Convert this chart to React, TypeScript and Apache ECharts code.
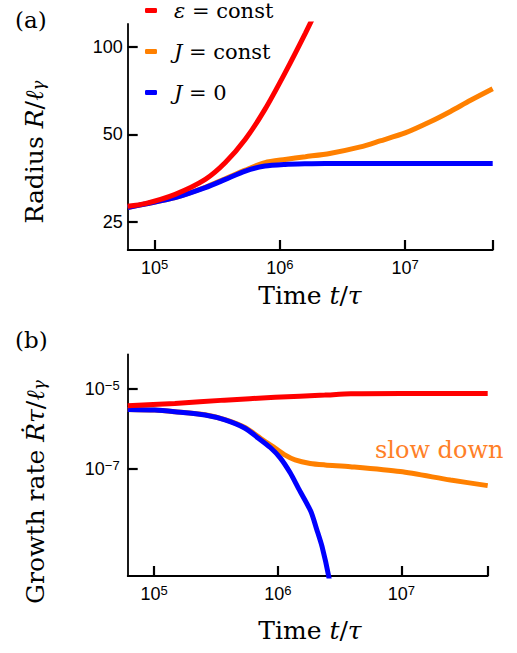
import React, { useEffect, useRef } from "react";
import * as echarts from "echarts";

// ---------- Data ----------
// Panel (a): Radius R / l_gamma vs time t / tau
const aRedT = [6.1e4, 8.4e4, 1.46e5, 2.54e5, 3.67e5, 5.3e5, 7.6e5, 1.1e6, 1.6e6, 2.2e6];
const aRedR = [28.3, 28.9, 31.1, 35.0, 40.0, 48.1, 61.0, 81.5, 111.7, 148];

const aOrangeT = [6.1e4, 8.4e4, 1.46e5, 2.54e5, 3.67e5, 5.3e5, 7.6e5, 1.1e6, 1.6e6, 2.5e6, 4.4e6, 6.3e6, 1e7, 1.6e7, 2.3e7, 3.3e7, 5e7];
const aOrangeR = [28.0, 28.8, 30.3, 32.9, 35.2, 37.7, 40.0, 41.0, 41.9, 43.0, 45.3, 47.5, 50.6, 55.4, 60.0, 65.4, 71.8];

const aBlueT = [6.1e4, 8.4e4, 1.46e5, 2.54e5, 3.67e5, 5.3e5, 7.6e5, 1.1e6, 1.6e6, 2.3e6, 5e6, 1e7, 5e7];
const aBlueR = [28.0, 28.8, 30.3, 32.8, 35.0, 37.4, 38.9, 39.4, 39.6, 39.7, 39.7, 39.7, 39.7];

// Panel (b): growth rate dR/dt * tau / l_gamma vs time
const bRedT = [6.1e4, 1.47e5, 3.7e5, 9.5e5, 2.4e6, 3.9e6, 1e7, 5e7];
const bRedV = [3.7e-6, 4.2e-6, 5.1e-6, 6.0e-6, 6.8e-6, 7.3e-6, 7.5e-6, 7.4e-6];

const bOrangeT = [6.1e4, 1.01e5, 1.47e5, 2.58e5, 3.74e5, 5.43e5, 7.9e5, 9.5e5, 1.15e6, 1.38e6, 1.83e6, 2.42e6, 3.86e6, 9.8e6, 2.5e7, 5e7];
const bOrangeV = [3.0e-6, 2.9e-6, 2.63e-6, 2.2e-6, 1.67e-6, 1.07e-6, 4.75e-7, 3.3e-7, 2.2e-7, 1.67e-7, 1.37e-7, 1.26e-7, 1.14e-7, 8.6e-8, 5.3e-8, 3.85e-8];

const bBlueT = [6.1e4, 1.01e5, 1.47e5, 2.58e5, 3.74e5, 5.43e5, 6.97e5, 8.7e5, 1.05e6, 1.26e6, 1.47e6, 1.85e6, 2.07e6, 2.28e6, 2.58e6, 2.75e6];
const bBlueV = [3.0e-6, 2.9e-6, 2.63e-6, 2.18e-6, 1.64e-6, 1.02e-6, 5.8e-7, 3.4e-7, 1.85e-7, 8.0e-8, 3.3e-8, 8.9e-9, 3.1e-9, 1.19e-9, 2.2e-10, 6e-11];

// Axis ticks / ranges
const xTicks = [1e5, 1e6, 1e7];
const xRange = [6.1e4, 5e7];
const aYTicks = [25, 50, 100];
const aYRange = [20, 120];
const bYTicks = [1e-7, 1e-5];
const bYRange = [2.2e-10, 7e-5];

const seriesNames = ["ε = const", "J = const", "J = 0"];
const colors = { red: "#ff0000", orange: "#ff8000", blue: "#0000ff" };

const SERIF = "DejaVu Serif";
const SANS = "Liberation Sans";

function pairs(t: number[], v: number[]) {
  return t.map((x, i) => [x, v[i]]);
}

const tickRich = {
  n: { fontSize: 18, fontFamily: SANS, color: "#000", lineHeight: 19, verticalAlign: "bottom" },
  s: { fontSize: 13, fontFamily: SANS, color: "#000", lineHeight: 12, verticalAlign: "top" },
};

function tickCfg(values: number[]) {
  return { show: true, inside: true, length: 10, lineStyle: { color: "#000000", width: 2.2 }, customValues: values };
}

function xAxisCfg(gridIndex: number) {
  return {
    type: "log",
    logBase: 10,
    gridIndex,
    min: xRange[0],
    max: xRange[1],
    axisLine: { show: true, onZero: false, lineStyle: { color: "#000", width: 1.8 } },
    axisTick: tickCfg([...xTicks, xRange[1]]),
    minorTick: { show: false },
    splitLine: { show: false },
    axisLabel: {
      customValues: xTicks,
      margin: 8,
      hideOverlap: false,
      formatter: (v: number) => `{n|10}{s|${Math.round(Math.log10(v))}}`,
      rich: tickRich,
    },
  };
}

export default function App() {
  const ref = useRef<HTMLDivElement>(null);
  useEffect(() => {
    if (!ref.current) return;
    const chart = echarts.init(ref.current, undefined, { renderer: "svg" });
    const lineBase = { type: "line", showSymbol: false, symbol: "none", smooth: 0.25, clip: true };
    const italic = (size: number) => ({ fontFamily: SERIF, fontStyle: "italic", fontSize: size, fill: "#000" });
    const option: any = {
      animation: false,
      backgroundColor: "#fff",
      grid: [
        { left: 127.7, right: 517 - 492.7, top: 24, height: 226, outerBoundsMode: "none", containLabel: false },
        { left: 127.7, right: 517 - 487.7, top: 354.3, height: 221.7, outerBoundsMode: "none", containLabel: false },
      ],
      xAxis: [xAxisCfg(0), xAxisCfg(1)],
      yAxis: [
        {
          type: "log", logBase: 10, gridIndex: 0, min: aYRange[0], max: aYRange[1],
          axisLine: { show: true, onZero: false, lineStyle: { color: "#000", width: 1.8 } },
          axisTick: tickCfg(aYTicks),
          minorTick: { show: false }, splitLine: { show: false },
          axisLabel: { customValues: aYTicks, margin: 5, hideOverlap: false, color: "#000", fontSize: 18, fontFamily: SANS, formatter: (v: number) => `${Math.round(v)}` },
        },
        {
          type: "log", logBase: 10, gridIndex: 1, min: bYRange[0], max: bYRange[1],
          axisLine: { show: true, onZero: false, lineStyle: { color: "#000", width: 1.8 } },
          axisTick: tickCfg(bYTicks),
          minorTick: { show: false }, splitLine: { show: false },
          axisLabel: { customValues: bYTicks, margin: 8, hideOverlap: false, formatter: (v: number) => `{n|10}{s|−${-Math.round(Math.log10(v))}}`, rich: tickRich },
        },
      ],
      legend: {
        data: seriesNames, orient: "vertical", left: 145, top: 0, padding: 0, itemWidth: 12, itemHeight: 5, itemGap: 20, icon: "roundRect",
        formatter: (name: string) => {
          if (name === seriesNames[0]) return "{i|ε} = const";
          if (name === seriesNames[1]) return "{i|J} = const";
          return "{i|J} = 0";
        },
        textStyle: {
          fontFamily: SERIF, fontSize: 21, color: "#000", lineHeight: 20, padding: [0, 0, 0, 12],
          rich: { i: { fontFamily: SERIF, fontStyle: "italic", fontSize: 21, color: "#000", lineHeight: 20 } },
        },
      },
      graphic: [
        { type: "text", x: 15, y: 20, style: { text: "(a)", fontFamily: SERIF, fontSize: 23, fill: "#000", align: "left", verticalAlign: "middle" } },
        { type: "text", x: 15, y: 340, style: { text: "(b)", fontFamily: SERIF, fontSize: 23, fill: "#000", align: "left", verticalAlign: "middle" } },
        { type: "text", x: 310, y: 295, style: { text: "Time {i|t}/{i|τ}", fontFamily: SERIF, fontSize: 25, fill: "#000", align: "center", verticalAlign: "middle", rich: { i: italic(25) } } },
        { type: "text", x: 310, y: 630, style: { text: "Time {i|t}/{i|τ}", fontFamily: SERIF, fontSize: 25, fill: "#000", align: "center", verticalAlign: "middle", rich: { i: italic(25) } } },
        { type: "text", x: 34, y: 152, rotation: Math.PI / 2, style: { text: "Radius {i|R}/{i|ℓ}{sub|γ}", fontFamily: SERIF, fontSize: 25, fill: "#000", align: "center", verticalAlign: "middle", rich: { i: italic(25), sub: { ...italic(17), verticalAlign: "bottom" } } } },
        { type: "text", x: 35, y: 492, rotation: Math.PI / 2, style: { text: "Growth rate {i|Ṙτ}/{i|ℓ}{sub|γ}", fontFamily: SERIF, fontSize: 25, fill: "#000", align: "center", verticalAlign: "middle", rich: { i: italic(25), sub: { ...italic(17), verticalAlign: "bottom" } } } },
        { type: "text", x: 375, y: 450, style: { text: "slow down", fontFamily: SERIF, fontSize: 24, fill: "#ff7f27", align: "left", verticalAlign: "middle" } },
      ],
      series: [
        { ...lineBase, name: seriesNames[1], xAxisIndex: 0, yAxisIndex: 0, data: pairs(aOrangeT, aOrangeR), color: colors.orange, lineStyle: { width: 5, color: colors.orange } },
        { ...lineBase, name: seriesNames[2], xAxisIndex: 0, yAxisIndex: 0, data: pairs(aBlueT, aBlueR), color: colors.blue, lineStyle: { width: 5, color: colors.blue } },
        { ...lineBase, name: seriesNames[0], xAxisIndex: 0, yAxisIndex: 0, data: pairs(aRedT, aRedR), color: colors.red, lineStyle: { width: 5, color: colors.red } },
        { ...lineBase, name: seriesNames[1], xAxisIndex: 1, yAxisIndex: 1, data: pairs(bOrangeT, bOrangeV), color: colors.orange, lineStyle: { width: 5, color: colors.orange } },
        { ...lineBase, name: seriesNames[2], xAxisIndex: 1, yAxisIndex: 1, data: pairs(bBlueT, bBlueV), color: colors.blue, lineStyle: { width: 5, color: colors.blue } },
        { ...lineBase, name: seriesNames[0], xAxisIndex: 1, yAxisIndex: 1, data: pairs(bRedT, bRedV), color: colors.red, lineStyle: { width: 5, color: colors.red } },
      ],
    };
    chart.setOption(option);
    return () => chart.dispose();
  }, []);
  return <div ref={ref} style={{ position: "fixed", left: 0, top: 0, width: 517, height: 653, background: "#fff" }} />;
}
